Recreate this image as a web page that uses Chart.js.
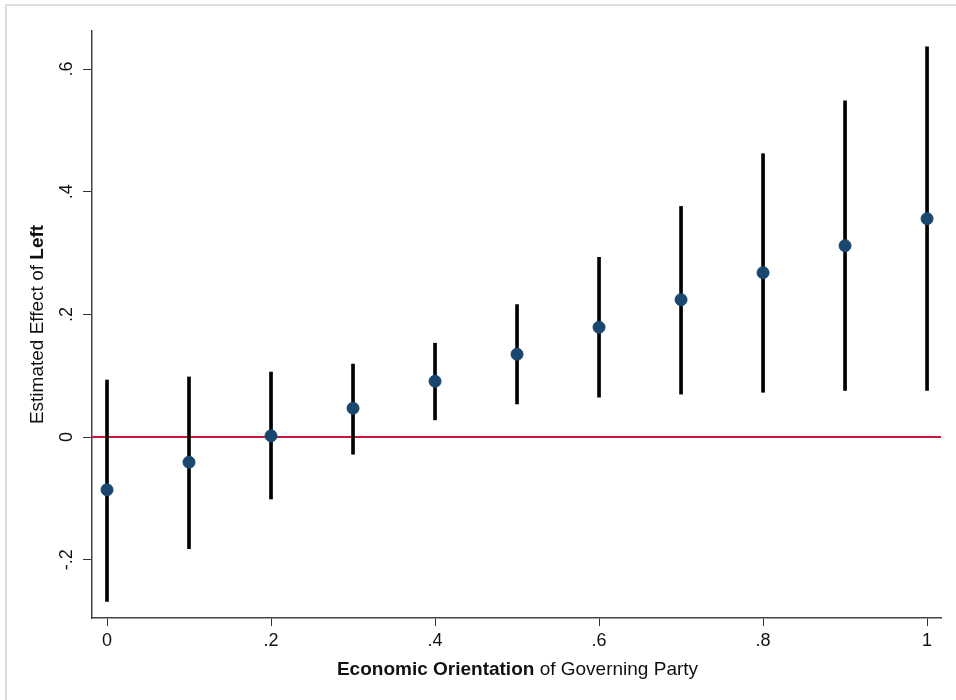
<!DOCTYPE html>
<html>
<head>
<meta charset="utf-8">
<script src="https://cdn.jsdelivr.net/npm/chart.js@4.4.1/dist/chart.umd.min.js"></script>
<style>
  html, body { margin: 0; padding: 0; background: #fff; }
  #wrap { width: 956px; height: 700px; position: relative; }
</style>
</head>
<body>
<div id="wrap"><canvas id="chart" width="956" height="700"></canvas></div>
<script>
// data
const xValues = [0, 0.1, 0.2, 0.3, 0.4, 0.5, 0.6, 0.7, 0.8, 0.9, 1];
const estimates = [-0.086, -0.041, 0.002, 0.047, 0.091, 0.135, 0.179, 0.224, 0.268, 0.312, 0.356];
const ciLow = [-0.268, -0.182, -0.101, -0.028, 0.028, 0.054, 0.065, 0.070, 0.073, 0.076, 0.076];
const ciHigh = [0.093, 0.098, 0.106, 0.119, 0.153, 0.216, 0.293, 0.376, 0.462, 0.548, 0.636];
const xTicks = [0, 0.2, 0.4, 0.6, 0.8, 1];
const yTicks = [-0.2, 0, 0.2, 0.4, 0.6];

const FONT = "'Liberation Sans', Arial, sans-serif";
const fmt = v => {
    const s = String(Math.round(v * 10) / 10);
    return s.replace(/^0\./, '.').replace(/^-0\./, '-.');
};

// frame + rotated y labels + mixed bold titles
const decor = {
    id: 'decor',
    beforeDraw(chart) {
        const ctx = chart.ctx;
        ctx.save();
        ctx.fillStyle = '#fff';
        ctx.fillRect(0, 0, chart.width, chart.height);
        ctx.strokeStyle = '#d0d4d4';
        ctx.lineWidth = 1.5;
        ctx.beginPath();
        ctx.moveTo(6, chart.height);
        ctx.lineTo(6, 5);
        ctx.lineTo(chart.width, 5);
        ctx.stroke();
        ctx.restore();
    },
    afterDraw(chart) {
        const ctx = chart.ctx;
        const ys = chart.scales.y;
        const area = chart.chartArea;
        ctx.save();
        ctx.fillStyle = '#111';
        ctx.font = '18px ' + FONT;
        ctx.textAlign = 'center';
        ctx.textBaseline = 'middle';
        yTicks.forEach(v => {
            const py = ys.getPixelForValue(v);
            ctx.save();
            ctx.translate(67, py);
            ctx.rotate(-Math.PI / 2);
            ctx.fillText(fmt(v), 0, 0);
            ctx.restore();
        });

        // mixed-weight titles
        const drawMixed = (parts, cx, cy, rot) => {
            ctx.save();
            ctx.translate(cx, cy);
            ctx.rotate(rot);
            let total = 0;
            parts.forEach(p => { ctx.font = p.f; total += ctx.measureText(p.t).width; });
            let x = -total / 2;
            ctx.textAlign = 'left';
            parts.forEach(p => { ctx.font = p.f; ctx.fillText(p.t, x, 0); x += ctx.measureText(p.t).width; });
            ctx.restore();
        };
        drawMixed([
            { t: 'Economic Orientation', f: 'bold 19px ' + FONT },
            { t: ' of Governing Party', f: '19px ' + FONT }
        ], (area.left + area.right) / 2 + 1, 670, 0);
        drawMixed([
            { t: 'Estimated Effect of ', f: '19px ' + FONT },
            { t: 'Left', f: 'bold 19px ' + FONT }
        ], 38, (area.top + area.bottom) / 2, -Math.PI / 2);
        ctx.restore();
    }
};

const xMin = -0.0183, xMax = 1.017;

new Chart(document.getElementById('chart'), {
    data: {
        datasets: [
            {
                type: 'line',
                data: [{ x: xMin, y: 0 }, { x: xMax, y: 0 }],
                borderColor: '#c8163c',
                borderWidth: 2,
                pointRadius: 0,
                order: 3
            },
            {
                type: 'bar',
                data: xValues.map((x, i) => ({ x, y: [ciLow[i], ciHigh[i]] })),
                backgroundColor: '#000',
                barThickness: 3,
                grouped: false,
                order: 2
            },
            {
                type: 'scatter',
                data: xValues.map((x, i) => ({ x, y: estimates[i] })),
                backgroundColor: '#1a476f',
                borderColor: '#1a476f',
                pointRadius: 6,
                order: 1
            }
        ]
    },
    options: {
        responsive: false,
        animation: false,
        layout: { padding: { top: 31, right: 15, left: 0, bottom: 0 } },
        plugins: { legend: { display: false }, tooltip: { enabled: false } },
        scales: {
            x: {
                type: 'linear',
                offset: false,
                min: xMin, max: xMax,
                afterBuildTicks: s => { s.ticks = xTicks.map(v => ({ value: v })); },
                afterFit: s => { s.height = 82; },
                grid: { offset: false, drawOnChartArea: false, drawTicks: true, tickLength: 8, color: '#333', lineWidth: 1 },
                border: { color: '#444', width: 1.5 },
                ticks: { color: '#111', font: { family: FONT, size: 18 }, padding: 4, maxRotation: 0, callback: v => fmt(v) }
            },
            y: {
                type: 'linear',
                min: -0.295, max: 0.662,
                afterBuildTicks: s => { s.ticks = yTicks.map(v => ({ value: v })); },
                afterFit: s => { s.width = 92; },
                grid: { drawOnChartArea: false, drawTicks: true, tickLength: 9, color: '#333', lineWidth: 1 },
                border: { color: '#444', width: 1.5 },
                ticks: { display: false }
            }
        }
    },
    plugins: [decor]
});
</script>
</body>
</html>
